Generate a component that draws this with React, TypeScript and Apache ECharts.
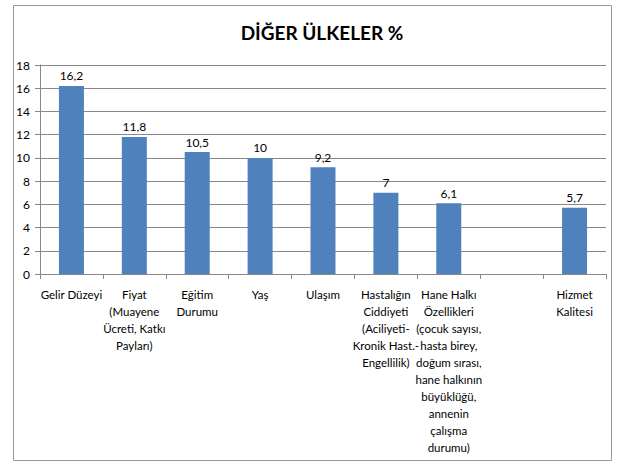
import React, { useEffect, useRef } from "react";
import * as echarts from "echarts";

const categories = [
  "Gelir Düzeyi",
  "Fiyat\n(Muayene\nÜcreti, Katkı\nPayları)",
  "Eğitim\nDurumu",
  "Yaş",
  "Ulaşım",
  "Hastalığın\nCiddiyeti\n(Aciliyeti-\nKronik Hast.-\nEngellilik)",
  "Hane Halkı\nÖzellikleri\n(çocuk sayısı,\nhasta birey,\ndoğum sırası,\nhane halkının\nbüyüklüğü,\nannenin\nçalışma\ndurumu)",
  "",
  "Hizmet\nKalitesi",
];
const values: (number | null)[] = [16.2, 11.8, 10.5, 10, 9.2, 7, 6.1, null, 5.7];
const yTicks = { min: 0, max: 18, interval: 2 };
const title = "DİĞER ÜLKELER %";

const FONT = "Lato, 'Open Sans', sans-serif";

export default function App() {
  const ref = useRef<HTMLDivElement>(null);
  useEffect(() => {
    document.body.style.margin = "0";
    const chart = echarts.init(ref.current!, undefined, { renderer: "svg" });
    chart.setOption({
      animation: false,
      backgroundColor: "#fff",
      title: {
        text: title,
        left: 317,
        textAlign: "center",
        top: 18,
        textStyle: { fontFamily: FONT, fontWeight: "bold", fontSize: 19, color: "#000" },
      },
      graphic: [
        {
          type: "rect",
          shape: { x: 13.5, y: 5.5, width: 598, height: 455 },
          style: { fill: "none", stroke: "#999", lineWidth: 1 },
          silent: true,
        },
      ],
      grid: { left: 40, right: 12, top: 65, bottom: 190 },
      xAxis: {
        type: "category",
        data: categories,
        axisLine: { lineStyle: { color: "#888" } },
        axisTick: { show: true, alignWithLabel: false, length: 5, lineStyle: { color: "#888" } },
        axisLabel: {
          interval: 0,
          fontFamily: FONT,
          fontSize: 11.5,
          color: "#000",
          lineHeight: 17,
          margin: 12,
        },
      },
      yAxis: {
        type: "value",
        min: yTicks.min,
        max: yTicks.max,
        interval: yTicks.interval,
        axisLine: { show: true, lineStyle: { color: "#888" } },
        axisTick: { show: true, length: 5, lineStyle: { color: "#888" } },
        splitLine: { lineStyle: { color: "#888" } },
        axisLabel: { fontFamily: FONT, fontSize: 12, color: "#000", margin: 10 },
      },
      series: [
        {
          type: "bar",
          data: values,
          barWidth: 25,
          itemStyle: { color: "#4F81BD" },
          label: {
            show: true,
            position: "top",
            fontFamily: FONT,
            fontSize: 12,
            color: "#000",
            distance: 4,
            formatter: (p: any) => String(p.value).replace(".", ","),
          },
        },
      ],
    });
    return () => chart.dispose();
  }, []);
  return <div ref={ref} style={{ width: 618, height: 464 }} />;
}
